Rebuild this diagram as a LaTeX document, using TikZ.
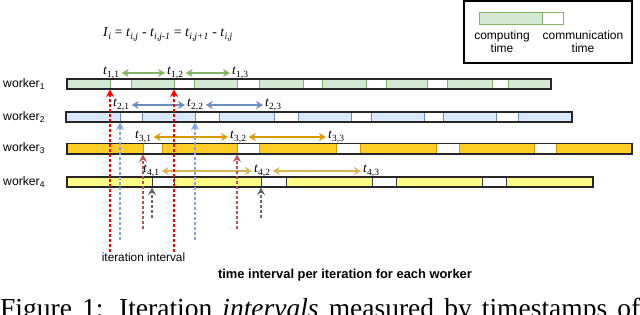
\documentclass[tikz,border=0pt]{standalone}
\usepackage{fontspec}
\setmainfont{Liberation Serif}
\setsansfont{Liberation Sans}
\usetikzlibrary{arrows.meta}
\definecolor{gfill}{HTML}{D5E8D4}\definecolor{gline}{HTML}{82B366}
\definecolor{bfill}{HTML}{DAE8FC}\definecolor{bline}{HTML}{6C8EBF}
\definecolor{ofill}{HTML}{FFCD28}\definecolor{oline}{HTML}{D79B00}
\definecolor{yfill}{HTML}{FFFF88}\definecolor{yline}{HTML}{36393D}
\definecolor{yarrow}{HTML}{D6B656}
\definecolor{rdash}{HTML}{FF0000}\definecolor{bdash}{HTML}{7EA6E0}
\definecolor{drdash}{HTML}{B85450}\definecolor{gydash}{HTML}{666666}
\newcommand\tsl[2]{\textit{t}\textsubscript{#1,#2}}
\tikzset{
  wlabel/.style={anchor=base west,inner sep=0pt,font=\fontsize{12.2}{14}\sffamily},
  tlabel/.style={anchor=base west,inner sep=0pt,font=\fontsize{13.5}{15}\selectfont},
  dbl/.style={line width=1.3pt,{Stealth[length=7pt,width=8pt]}-{Stealth[length=7pt,width=8pt]},shorten <=2pt,shorten >=2pt},
  upar/.style={line width=1.2pt,dash pattern=on 3pt off 2pt,-{Stealth[length=7.5pt,width=8pt]}},
  frame/.style={draw=black!85,line width=1.3pt},
  txt/.style={inner sep=0pt,font=\fontsize{12}{13}\sffamily,align=center}
}
\begin{document}
\begin{tikzpicture}[x=1pt,y=-1pt]
\useasboundingbox (0,0) rectangle (640,315);
\clip (0,0) rectangle (640,315);
% legend
\draw[line width=1.2pt] (464,1) rectangle (632,63);
\filldraw[fill=gfill,draw=gline,line width=1pt] (479,13) rectangle (542,25);
\filldraw[fill=white,draw=gline,line width=1pt] (542,13) rectangle (563,25);
\node[txt] (lc) at (502,41.5) {computing\\time};
\node[txt] (lm) at (583,41.5) {communication\\time};
% equation
\node[anchor=base west,inner sep=0pt,font=\fontsize{13.8}{16}\selectfont] (eq) at (103,37)
 {\textit{I}\textsubscript{\textit{i}} = \textit{t}\textsubscript{\textit{i,j}} - \textit{t}\textsubscript{\textit{i,j-1}} = \textit{t}\textsubscript{\textit{i,j+1}} - \textit{t}\textsubscript{\textit{i,j}}};
% worker labels
\node[wlabel] (w1) at (3,87.5) {worker\textsubscript{1}};
\node[wlabel] (w2) at (3,120.5) {worker\textsubscript{2}};
\node[wlabel] (w3) at (3,152) {worker\textsubscript{3}};
\node[wlabel] (w4) at (3,186) {worker\textsubscript{4}};
% bars
\fill[white] (67,79) rectangle (551,89);
\foreach \a/\b in {67/110,131/174,194/237,259/303,322/366,386/427,447/492,508/551}
  \filldraw[fill=gfill,draw=gline,line width=1pt] (\a,79) rectangle (\b,89);
\draw[frame] (67,79) rectangle (551,89);
\fill[white] (66,112) rectangle (572,122);
\foreach \a/\b in {66/120,142/195,219/274,298/351,371/424,443/496,518/572}
  \filldraw[fill=bfill,draw=bline,line width=1pt] (\a,112) rectangle (\b,122);
\draw[frame] (66,112) rectangle (572,122);
\fill[white] (67,143.5) rectangle (632,154);
\foreach \a/\b in {67/143,162/237,259/336,360/436,459/534,556/632}
  \filldraw[fill=ofill,draw=oline,line width=1pt] (\a,143.5) rectangle (\b,154);
\draw[frame] (67,143.5) rectangle (632,154);
\fill[white] (67,177) rectangle (593,187);
\foreach \a/\b in {67/152,174/261,286/372,396/482,506/593}
  \filldraw[fill=yfill,draw=yline,line width=1pt] (\a,177) rectangle (\b,187);
\draw[frame] (67,177) rectangle (593,187);
% timestamp labels
\node[tlabel] (t11) at (103,75) {\tsl{1}{1}};
\node[tlabel] (t12) at (167,75) {\tsl{1}{2}};
\node[tlabel] (t13) at (232,75) {\tsl{1}{3}};
\node[tlabel] (t21) at (113,107) {\tsl{2}{1}};
\node[tlabel] (t22) at (187,107) {\tsl{2}{2}};
\node[tlabel] (t23) at (265,107) {\tsl{2}{3}};
\node[tlabel] (t31) at (135,139) {\tsl{3}{1}};
\node[tlabel] (t32) at (230,139) {\tsl{3}{2}};
\node[tlabel] (t33) at (328,139) {\tsl{3}{3}};
\node[tlabel] (t41) at (143,173) {\tsl{4}{1}};
\node[tlabel] (t42) at (254,173) {\tsl{4}{2}};
\node[tlabel] (t43) at (363,173) {\tsl{4}{3}};
% interval arrows
\draw[dbl,gline] (t11) -- (t12);
\draw[dbl,gline] (t12) -- (t13);
\draw[dbl,bline] (t21) -- (t22);
\draw[dbl,bline] (t22) -- (t23);
\draw[dbl,oline] (t31) -- (t32);
\draw[dbl,oline] (t32) -- (t33);
\draw[dbl,yarrow] (t41) -- (t42);
\draw[dbl,yarrow] (t42) -- (t43);
% timestamp dashed arrows
\coordinate (r1t) at (110,89.5); \coordinate (r1b) at (110,252);
\coordinate (r2t) at (174,89.5); \coordinate (r2b) at (174,252);
\coordinate (b1t) at (120,122.5); \coordinate (b1b) at (120,240);
\coordinate (b2t) at (195,122.5); \coordinate (b2b) at (195,240);
\coordinate (d1t) at (143,154.5); \coordinate (d1b) at (143,229);
\coordinate (d2t) at (237,154.5); \coordinate (d2b) at (237,229);
\coordinate (g1t) at (152,187.5); \coordinate (g1b) at (152,218);
\coordinate (g2t) at (261,187.5); \coordinate (g2b) at (261,218);
\draw[upar,gydash] (g1b) -- (g1t);
\draw[upar,gydash] (g2b) -- (g2t);
\draw[upar,drdash] (d1b) -- (d1t);
\draw[upar,drdash] (d2b) -- (d2t);
\draw[upar,bdash] (b1b) -- (b1t);
\draw[upar,bdash] (b2b) -- (b2t);
\draw[upar,rdash] (r1b) -- (r1t);
\draw[upar,rdash] (r2b) -- (r2t);
% texts
\node[inner sep=0pt,font=\fontsize{11.8}{13}\sffamily] (ii) at (143.5,257) {iteration interval};
\node[inner sep=0pt,font=\fontsize{12.9}{14}\sffamily\bfseries] (ti) at (345,275) {time interval per iteration for each worker};
\node[anchor=base west,inner sep=0pt,font=\fontsize{27.5}{30}\selectfont] (cap) at (0,317)
 {\makebox[640pt][s]{Figure 1: Iteration \textit{intervals} measured by timestamps of}};
\end{tikzpicture}
\end{document}
